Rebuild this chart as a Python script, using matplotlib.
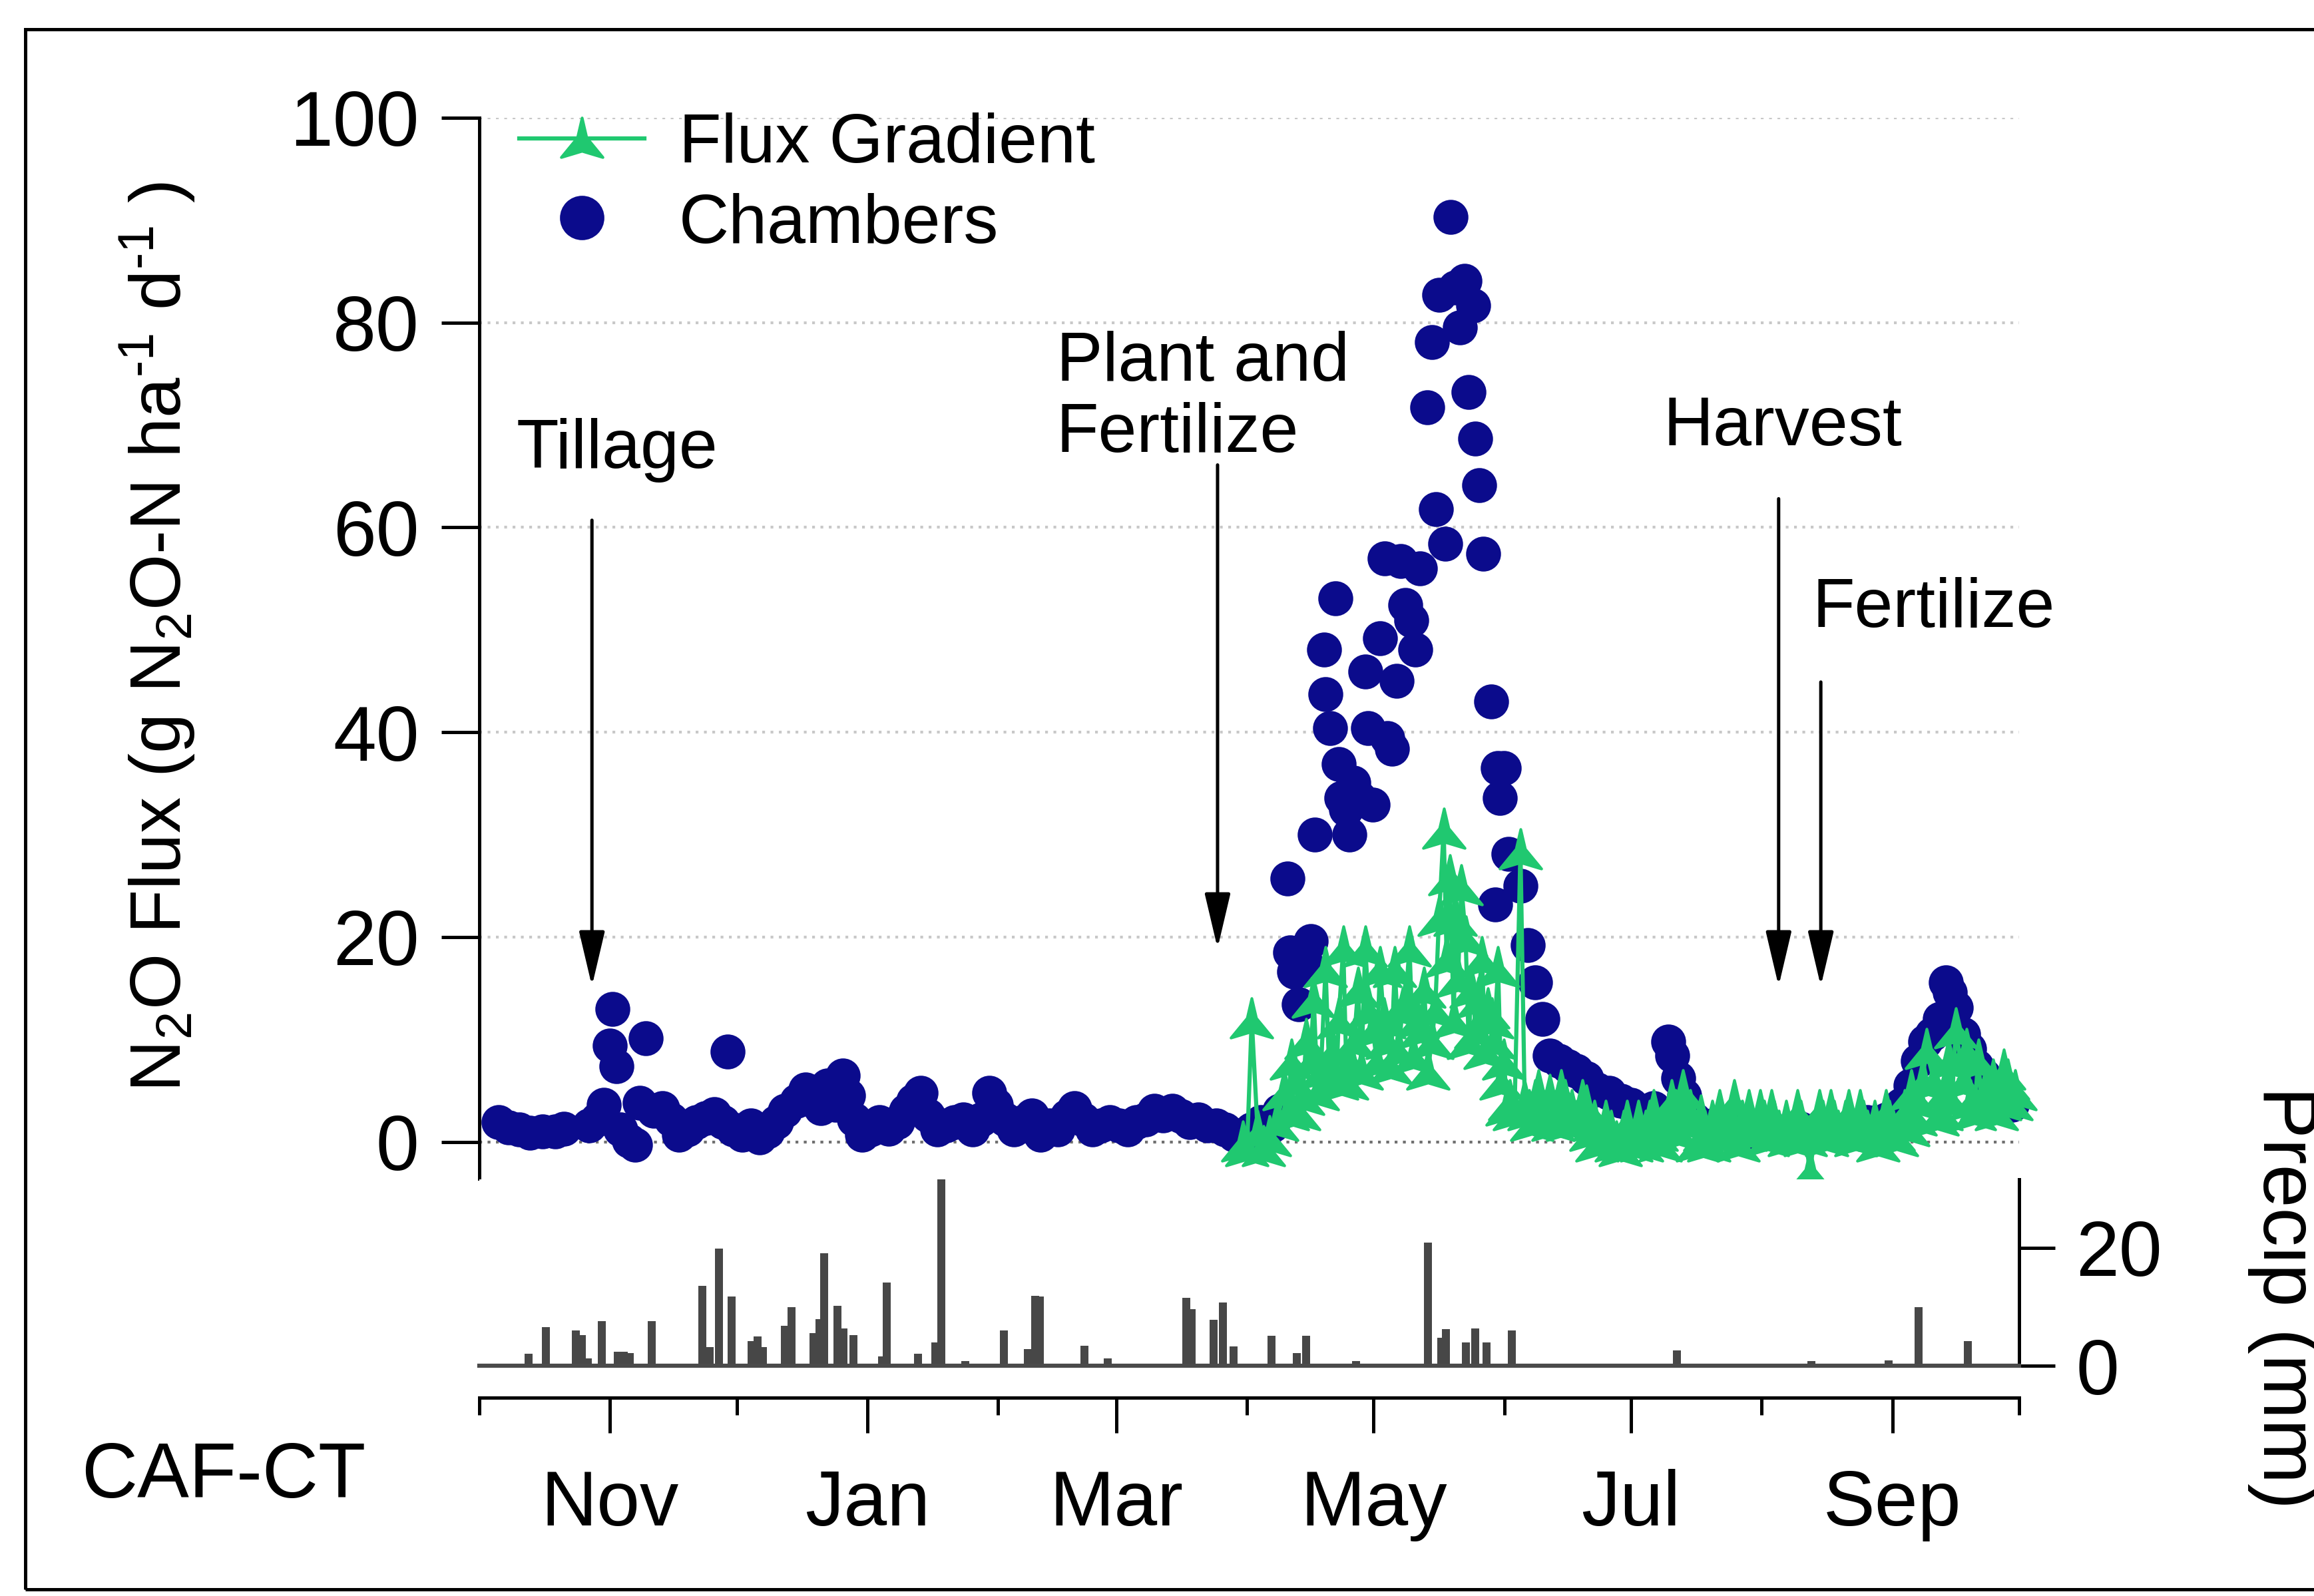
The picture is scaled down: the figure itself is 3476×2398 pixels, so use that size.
import numpy as np
import pandas as pd
import matplotlib
matplotlib.use("Agg")
import matplotlib.pyplot as plt
import matplotlib.dates as mdates
from matplotlib.path import Path
from matplotlib.lines import Line2D
from matplotlib.patches import Rectangle

plt.rcParams["font.family"] = ["Liberation Sans", "DejaVu Sans"]
plt.rcParams["mathtext.fontset"] = "custom"
plt.rcParams["mathtext.rm"] = "Liberation Sans"
plt.rcParams["mathtext.it"] = "Liberation Sans:italic"
plt.rcParams["mathtext.bf"] = "Liberation Sans:bold"

START = "2012-10-01"  # all "day" values are days after this date

# chamber fluxes, g N2O-N ha-1 d-1
chamber_day = [4.5, 7, 9.5, 12, 15, 18, 20, 26, 28, 29.5, 31, 31.5, 32.5, 33.5, 35.5, 37, 38, 39.5,
               41.3, 43.4, 45.5, 47.3, 49.4, 51.5, 53.6, 55.7, 57.8, 58.8, 60.2, 62.3, 64.4, 66.5,
               68.3, 70.4, 72.5, 75.3, 77.4, 79.1, 80.9, 82.6, 84.4, 86.1, 87.5, 88.9, 90.7, 92.8,
               94.9, 97, 99.1, 101.2, 102.9, 104.7, 106.4, 108.5, 110.6, 112.7, 114.8, 116.9, 119,
               120.8, 122.5, 124.6, 126.7, 128.8, 130.9, 133, 135.1, 137.2, 139.3, 141.1, 143.2,
               145.3, 147.4, 149.5, 151.6, 153.7, 155.8, 157.9, 160, 162.1, 164.2, 166.3, 168.4,
               170.5, 172.6, 174.7, 176.8, 178.9, 181, 183.1, 185.2, 188, 189.7, 191.5, 192.2,
               193.2, 194.3, 195.7, 197.1, 198.1, 200.2, 200.6, 201.6, 203, 203.7, 204.4, 205.5,
               206.2, 207.2, 208.6, 210, 210.7, 211.8, 213.5, 214.6, 215.3, 216.3, 217.4, 218.4,
               219.5, 220.9, 221.9, 223, 224.7, 225.8, 226.8, 227.5, 228.9, 230.3, 231.4, 232.4,
               233.5, 234.5, 235.6, 236, 237, 238, 239.8, 240.8, 241.5, 241.9, 242.9, 244, 246.8,
               248.5, 250.3, 252, 253.8, 255.9, 258, 260, 262.5, 265, 267.8, 270.6, 273, 275.5,
               278.3, 281.8, 282.8, 284.2, 285.6, 288, 292.3, 297.5, 302.8, 308, 313.3, 318.5,
               323.8, 329, 333.6, 337, 339.2, 341, 342.7, 344.4, 346.2, 347.6, 348.6, 350, 351.8,
               353.2, 354.9, 356.7, 358.8, 361.2, 363.3]
chamber_flux = [1.9, 1.4, 1.2, 0.9, 1.0, 1.0, 1.3, 1.6, 2.2, 3.6, 9.4, 13.0, 7.4, 1.2, 0.1, -0.3, 3.8, 10.1,
                3.0, 3.3, 2.2, 0.7, 1.2, 1.9, 2.3, 2.7, 1.9, 8.8, 1.2, 0.7, 1.6, 0.4,
                1.0, 1.9, 3.0, 4.0, 5.1, 4.5, 3.3, 5.5, 3.6, 6.5, 4.5, 2.2, 0.7, 1.2,
                1.9, 1.3, 1.9, 3.0, 4.0, 4.8, 2.6, 1.2, 1.6, 1.9, 2.2, 1.2, 2.2,
                4.8, 3.6, 2.2, 1.2, 1.9, 2.6, 0.7, 1.6, 1.2, 2.5, 3.3, 2.2,
                1.2, 1.6, 1.9, 1.6, 1.2, 1.9, 2.2, 3.0, 2.6, 3.0, 2.5, 1.9,
                2.2, 1.6, 1.6, 1.2, 0.7, 0.7, 1.2, 1.9, 1.6, 3.0, 25.7, 18.5,
                16.6, 13.4, 17.7, 19.6, 30.0, 48.1, 43.7, 40.4, 53.1, 36.9, 33.6, 32.5,
                30.0, 35.1, 33.6, 45.9, 40.4, 32.9, 49.2, 57.0, 39.4, 38.4, 45.0, 56.7,
                52.4, 50.9, 48.1, 56.0, 71.7, 78.1, 61.8, 82.7, 58.4, 90.3, 83.4, 79.5,
                84.1, 73.2, 81.7, 68.7, 64.1, 57.4, 43.0, 23.2, 36.5, 33.6, 36.5, 28.1, 25.0,
                19.2, 15.6, 12.0, 8.4, 7.9, 7.4, 6.9, 6.2, 5.1, 4.8, 4.0, 3.6, 3.0,
                3.3, 9.8, 8.4, 6.2, 4.5, 2.2, 1.6, 1.2, 0.7, 1.0, 1.3, 1.6,
                1.2, 1.9, 2.2, 3.6, 5.5, 7.9, 9.8, 10.5, 12.0, 15.6, 14.6, 13.1, 10.5,
                9.1, 7.4, 6.5, 4.8, 4.0, 3.6]

# flux gradient fluxes, g N2O-N ha-1 d-1
fg_day = [181, 182, 183.1, 184.5, 185.9, 187.3, 189, 190.8, 191.6, 192.5, 193.4, 194.3, 195.2, 196,
          197, 197.8, 198.7, 199.5, 200.6, 201.5, 202.3, 203.2, 203.7, 204.8, 205.6, 206.5, 207.4,
          208.3, 209.1, 210, 210.9, 211.8, 212.7, 213.5, 214.4, 215.3, 216.1, 217, 218, 218.8,
          219.6, 220.5, 221.4, 222.3, 223.1, 224, 224.9, 225.8, 226.6, 227.5, 228.6, 229.3, 230,
          231, 231.4, 232, 232.8, 233.8, 234.5, 235.2, 236.3, 236.8, 237.7, 238.4, 239.1, 240,
          240.5, 241.5, 242.2, 242.9, 243.6, 244.3, 245.4, 246.8, 247.8, 248.9, 249.5, 250.3, 251,
          252, 253.8, 254.6, 255.5, 256.4, 257.3, 258, 259, 260.8, 261.5, 262.5, 263.6, 264.3,
          265, 266, 267, 268.2, 269.5, 270.4, 271.3, 272, 273, 274.8, 275.6, 276.5, 277.4, 278.3,
          279, 280, 281.8, 282.6, 283.5, 284.4, 285.3, 286, 287, 288.8, 289.6, 290.5, 291.4,
          292.3, 293.1, 294, 295.8, 296.6, 297.5, 298.4, 299.3, 300.2, 301, 302.8, 303.6, 304.5,
          305.4, 306.3, 307, 308, 309.8, 310.6, 311.5, 312.4, 313.3, 314.3, 315.4, 316.8, 317.6,
          318.5, 319.4, 320.3, 321.1, 322, 323.8, 324.6, 325.5, 326.4, 327.3, 328.1, 329, 330.8,
          331.6, 332.5, 333.4, 334.3, 335.1, 336, 337.8, 338.6, 339.5, 340.4, 341.3, 342.1, 343,
          344.8, 345.6, 346.5, 347.4, 348.3, 349.1, 350, 351.8, 352.6, 353.5, 354.4, 355.3,
          356.1, 357, 358.8, 359.6, 360.5, 361.4, 362.3, 363.1, 364]
fg_flux = [0.0, -0.5, 12.0, 1.0, -0.5, 0.5, 2.0, 5.0, 3.0, 8.0, 6.0, 3.0, 4.5, 10.0,
           8.0, 14.0, 5.0, 7.0, 17.0, 6.5, 9.0, 6.0, 12.0, 19.0, 6.0, 8.0, 10.0,
           15.0, 7.0, 19.0, 13.0, 11.0, 8.0, 17.0, 12.0, 10.0, 7.5, 17.0, 9.0, 13.0,
           14.0, 19.0, 8.5, 12.0, 11.0, 15.0, 7.0, 10.0, 13.0, 22.0, 30.5, 18.0, 26.0,
           12.0, 22.0, 16.0, 25.0, 20.0, 10.0, 15.0, 11.0, 14.0, 18.0, 9.0, 13.0, 12.0,
           10.0, 17.0, 6.0, 8.0, 3.5, 4.0, 3.0, 28.5, 4.0, 3.0, 2.0, 4.0, 5.0,
           3.0, 4.5, 2.0, 3.0, 5.0, 4.0, 2.0, 3.0, 2.5, 4.0, 3.5, 1.0, 2.0,
           0.0, 0.5, 2.0, 1.0, 0.0, -0.5, 1.0, 2.0, 0.0, 2.0, 0.0, 1.0, 2.0, 3.0,
           1.0, 0.0, 2.0, 4.0, 3.0, 1.0, 5.0, 2.0, 3.0, 0.0, 2.5, 1.0, 0.0,
           2.0, 1.0, 3.0, 1.0, 2.0, 4.0, 0.0, 2.0, 1.0, 3.0, 1.0, 3.0, 2.0,
           0.5, 3.0, 2.0, 1.0, 2.0, 0.5, 1.0, 3.0, 2.0, 0.5, -2.8, 1.0, 3.0,
           2.0, 0.5, 3.0, 2.0, 1.0, 2.0, 3.0, 1.0, 0.5, 3.0, 2.0, 1.0, 2.0,
           0.0, 1.0, 3.0, 2.0, 1.0, 0.5, 3.0, 1.5, 5.0, 2.5, 4.0, 6.0, 9.0,
           6.0, 2.5, 3.0, 5.0, 8.0, 4.0, 11.0, 6.0, 9.0, 4.0, 3.0, 8.0,
           4.0, 5.0, 6.0, 3.0, 4.0, 7.0, 6.0, 4.0, 5.0]

# daily precipitation, mm
precip_day = [11.7, 15.8, 22.9, 24.3, 25.7, 29, 32.8, 34.2, 35.7, 40.9, 52.9, 54.6, 56.8, 59.8, 64.6,
              66, 67.2, 72.5, 74, 79.2, 80.7, 81.8, 84.9, 86.3, 88.7, 95.5, 96.6, 104, 108.1, 109.5,
              115.2, 124.4, 130, 131.8, 132.9, 143.5, 149, 167.6, 168.9, 174.1, 176.3, 178.8,
              187.8, 193.8, 196, 207.9, 224.9, 228.1, 229.2, 233.9, 236, 238.8, 244.8, 283.9,
              315.7, 334, 341.2, 352.9]
precip_mm = [2.0, 6.5, 6.0, 5.2, 1.2, 7.6, 2.4, 2.4, 2.2, 7.6, 13.5, 3.2, 19.9, 11.7, 4.2,
             5.0, 3.2, 6.8, 9.9, 5.5, 7.9, 19.1, 10.2, 6.3, 5.2, 1.6, 14.1, 2.0, 4.0, 31.6,
             0.8, 6.0, 2.8, 11.9, 11.7, 3.4, 1.2, 11.5, 9.6, 7.8, 10.7, 3.3,
             5.1, 2.1, 5.1, 0.8, 20.9, 4.7, 6.2, 4.0, 6.3, 4.0, 6.0, 2.6,
             0.8, 0.9, 9.9, 4.2]

major_dates = ["2012-11-01", "2013-01-01", "2013-03-01", "2013-05-01", "2013-07-01", "2013-09-01"]
major_labels = ["Nov", "Jan", "Mar", "May", "Jul", "Sep"]
minor_dates = ["2012-10-01", "2012-12-01", "2013-02-01", "2013-04-01", "2013-06-01",
               "2013-08-01", "2013-10-01"]

# management events: arrow date (day) and text
event_day = [26.7, 175.0, 308.0, 318.0]
event_text = ["Tillage", "Plant and\nFertilize", "Harvest", "Fertilize"]

NAVY = "#0b0b8c"
GREEN = "#20c870"
BARGREY = "#474747"
FS = 28


def to_num(days):
    d = pd.Timestamp(START) + pd.to_timedelta(np.asarray(days, dtype=float), unit="D")
    return mdates.date2num(d.to_numpy())


# arrowhead-like marker for the flux gradient series (concave sides, notched base)
fg_marker = Path([(0, 1), (0.22, 0.05), (1.0, -0.9), (0, -0.6), (-1.0, -0.9), (-0.22, 0.05), (0, 1)],
                 [Path.MOVETO] + [Path.LINETO] * 5 + [Path.CLOSEPOLY])

W, H = 3476, 2398
fig = plt.figure(figsize=(W / 300, H / 300), dpi=300)
ax = fig.add_axes([720 / W, 1 - 1771 / H, (3033 - 720) / W, (1771 - 177) / H])
axp = fig.add_axes([720 / W, 1 - 2052 / H, (3033 - 720) / W, (2052 - 1772) / H], sharex=ax)

# --- flux panel
ax.plot(to_num(chamber_day), chamber_flux, ls="none", marker="o", ms=11.6, color=NAVY,
        zorder=3, clip_on=False)
ax.plot(to_num(fg_day), fg_flux, color=GREEN, lw=1.5, marker=fg_marker, ms=15,
        mfc=GREEN, mec=GREEN, zorder=4, clip_on=False)

ax.set_ylim(-3.6, 100)
ax.set_yticks([0, 20, 40, 60, 80, 100])
ax.yaxis.grid(True, ls=(0, (1, 2)), color="#c8c8c8", lw=1.0)
ax.axhline(0, color="#707070", ls=(0, (1, 2)), lw=1.0, zorder=1)
ax.set_axisbelow(True)
for s in ["top", "right", "bottom"]:
    ax.spines[s].set_visible(False)
ax.spines["left"].set_linewidth(1.2)
ax.tick_params(axis="y", direction="out", length=13.7, width=1.2, pad=8, labelsize=FS)
ax.tick_params(axis="x", which="both", bottom=False, labelbottom=False)

handles = [Line2D([], [], color=GREEN, lw=1.5, marker=fg_marker, ms=15, mfc=GREEN, mec=GREEN),
           Line2D([], [], ls="none", marker="o", ms=15, color=NAVY)]
ax.legend(handles, ["Flux Gradient", "Chambers"], loc="upper left", bbox_to_anchor=(0.026, 1.005),
          frameon=False, borderpad=0, borderaxespad=0, handlelength=1.8, handletextpad=0.5,
          labelspacing=0.22, fontsize=25)

# event arrows and labels (layout positions in data units)
arrow_top = [60.7, 66.1, 62.8, 44.9]
arrow_tip = [15.2, 18.9, 15.2, 15.2]
for d, top, tip in zip(event_day, arrow_top, arrow_tip):
    x = to_num([d])[0]
    ax.annotate("", xy=(x, tip), xytext=(x, top),
                arrowprops=dict(arrowstyle="-|>,head_length=0.85,head_width=0.2", mutation_scale=20,
                                color="black", lw=1.2, shrinkA=0, shrinkB=0))

text_day = [8.8, 136.8, 280.6, 316.0]
text_base = [65.8, 67.4, 68.0, 50.3]
for d, yb, t in zip(text_day, text_base, event_text):
    lines = t.split("\n")
    for i, line in enumerate(reversed(lines)):
        ax.text(to_num([d])[0], yb + i * 6.9, line, fontsize=25, ha="left", va="baseline")

# --- precipitation panel
axp.bar(to_num(precip_day), precip_mm, width=1.9, color=BARGREY, edgecolor="none", zorder=2)
axp.axhline(0, color="#4a4a4a", lw=1.5, zorder=3, clip_on=False)
axp.set_ylim(0, 31.6)
axp.set_xlim(to_num([0])[0], to_num([365])[0])
axp.yaxis.tick_right()
axp.set_yticks([0, 20])
for s in ["top", "left"]:
    axp.spines[s].set_visible(False)
axp.spines["right"].set_linewidth(1.2)
axp.spines["bottom"].set_linewidth(1.2)
axp.spines["bottom"].set_position(("outward", 11.5))
axp.tick_params(axis="y", direction="out", length=13, width=1.2, pad=7.5, labelsize=FS)

axp.set_xticks(mdates.date2num(pd.to_datetime(major_dates).to_numpy()))
axp.set_xticklabels(major_labels)
axp.set_xticks(mdates.date2num(pd.to_datetime(minor_dates).to_numpy()), minor=True)
axp.tick_params(axis="x", which="major", direction="out", length=12.7, width=1.2, pad=13, labelsize=FS)
axp.tick_params(axis="x", which="minor", direction="out", length=6.2, width=1.2)

# --- labels
fig.text(272 / W, 1 - 957 / H, r"N$_2$O Flux (g N$_2$O-N ha$^{\text{-}1}$ d$^{\text{-}1}$ )", rotation=90,
         rotation_mode="anchor", ha="center", va="baseline", fontsize=26)
fig.text(3400 / W, 1 - 1950 / H, "Precip (mm)", rotation=270, rotation_mode="anchor",
         ha="center", va="baseline", fontsize=FS)
fig.text(122 / W, 1 - 2250 / H, "CAF-CT", fontsize=FS, ha="left", va="baseline")

# outer frame (right edge runs off the image, as in the original)
fig.add_artist(Rectangle((38 / W, 1 - 2388 / H), (3600 - 38) / W, (2388 - 44) / H,
                         transform=fig.transFigure, fill=False, lw=1.2, ec="black"))

fig.savefig("out.png", dpi=300)
